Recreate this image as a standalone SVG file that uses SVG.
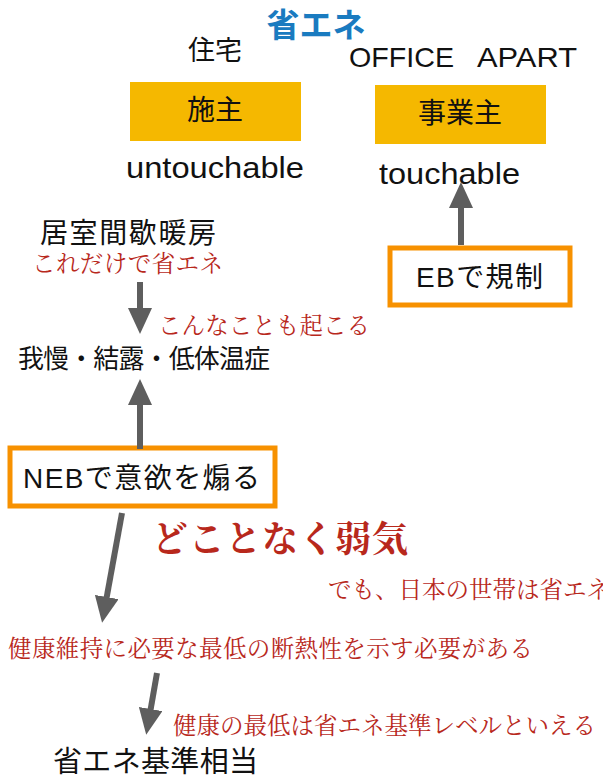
<svg xmlns="http://www.w3.org/2000/svg" width="603" height="778" viewBox="0 0 603 778">
<style>
.blk{font-family:"Liberation Sans","Noto Sans CJK JP",sans-serif;fill:#111}
.red{font-family:"Liberation Serif","Noto Serif CJK JP","Noto Sans CJK JP",serif;fill:#b8281c;font-size:23.5px}
.ylw{fill:#f5b800}
.org{fill:#fff;stroke:#f79100;stroke-width:5}
.arr{stroke:#5e5e5e;stroke-width:6;fill:none}
</style>
<defs>
<marker id="ah" viewBox="0 0 26 24" refX="4" refY="12" markerWidth="26" markerHeight="24" markerUnits="userSpaceOnUse" orient="auto">
<path d="M0,0 L26,12 L0,24 Z" fill="#5e5e5e"/>
</marker>
</defs>
<rect width="603" height="778" fill="#fff"/>
<g id="title"><text x="316" y="37" text-anchor="middle" style="font-family:'Noto Sans CJK JP',sans-serif;font-weight:bold;font-size:33px;fill:#1a7bc0">省エネ</text></g>
<g id="jutaku"><text class="blk" x="215" y="60" text-anchor="middle" font-size="27">住宅</text></g>
<g id="office"><text class="blk" x="349" y="67" font-size="28" textLength="105" lengthAdjust="spacingAndGlyphs">OFFICE</text><text class="blk" x="477" y="67" font-size="28" textLength="100" lengthAdjust="spacingAndGlyphs">APART</text></g>
<g id="seshu"><rect class="ylw" x="130" y="82" width="171" height="59"/><text class="blk" x="215" y="120" text-anchor="middle" font-size="28">施主</text></g>
<g id="jigyoshu"><rect class="ylw" x="375" y="85" width="171" height="59"/><text class="blk" x="460" y="123" text-anchor="middle" font-size="28">事業主</text></g>
<g id="untouchable"><text class="blk" x="126" y="178" font-size="29" textLength="178" lengthAdjust="spacingAndGlyphs">untouchable</text></g>
<g id="touchable"><text class="blk" x="379" y="184" font-size="29" textLength="141" lengthAdjust="spacingAndGlyphs">touchable</text></g>
<g id="eb"><rect class="org" x="390" y="248" width="180" height="57"/><text class="blk" x="416" y="287" font-size="28" textLength="127">EBで規制</text></g>
<g id="kyoshitsu"><text class="blk" x="40" y="243" font-size="28" textLength="176">居室間歇暖房</text><text class="red" x="32" y="272" textLength="191">これだけで省エネ</text></g>
<g id="gaman"><text class="red" x="158" y="334" textLength="212">こんなことも起こる</text><text class="blk" x="18" y="368" font-size="26" textLength="252">我慢・結露・低体温症</text></g>
<g id="neb"><rect class="org" x="10" y="448" width="265" height="58"/><text class="blk" x="23" y="488" font-size="28" textLength="237">NEBで意欲を煽る</text></g>
<g id="yowaki"><text x="152" y="552" style="font-family:'Liberation Serif','Noto Serif CJK JP','Noto Sans CJK JP',serif;font-weight:bold;font-size:36px;fill:#b8281c" textLength="256">どことなく弱気</text></g>
<g id="demo"><text class="red" x="328" y="598">でも、日本の世帯は省エネ</text></g>
<g id="kenko"><text class="red" x="8" y="657" textLength="525">健康維持に必要な最低の断熱性を示す必要がある</text></g>
<g id="kenko2"><text class="red" x="173" y="734">健康の最低は省エネ基準レベルといえる</text></g>
<g id="shoene"><text class="blk" x="53" y="772" font-size="29" textLength="205">省エネ基準相当</text></g>
<g id="connectors">
<line class="arr" x1="461" y1="245" x2="461" y2="204" marker-end="url(#ah)"/>
<line class="arr" x1="140" y1="282" x2="140" y2="312" marker-end="url(#ah)"/>
<line class="arr" x1="140" y1="449" x2="140" y2="401" marker-end="url(#ah)"/>
<line class="arr" x1="122" y1="513" x2="106" y2="601" marker-end="url(#ah)"/>
<line class="arr" x1="157" y1="673" x2="150" y2="713" marker-end="url(#ah)"/>
</g>
</svg>
